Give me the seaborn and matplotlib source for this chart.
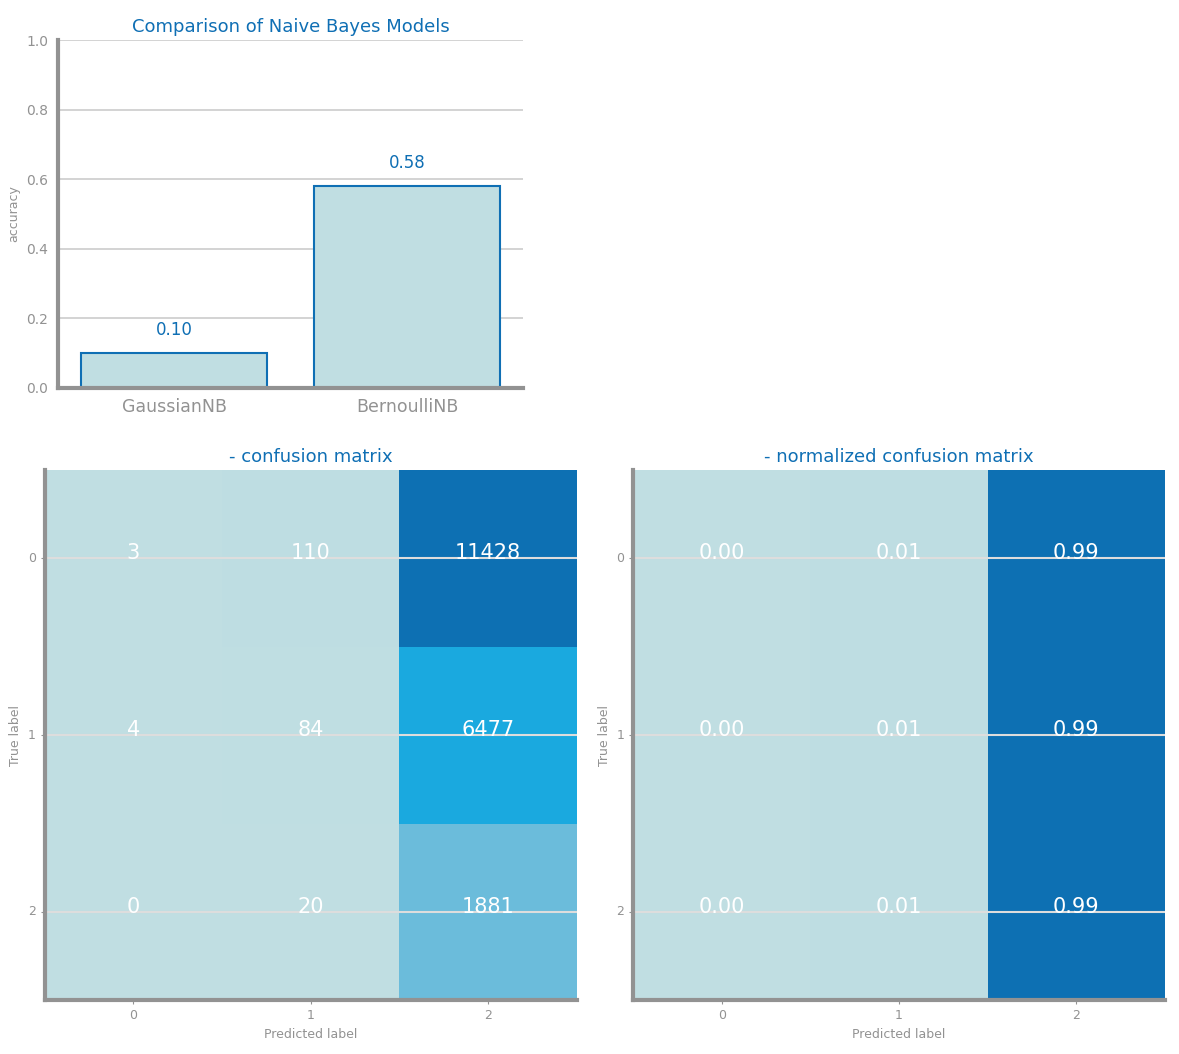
import matplotlib
matplotlib.use("Agg")
import matplotlib.pyplot as plt
import seaborn as sns
import numpy as np
import pandas as pd
from matplotlib.colors import LinearSegmentedColormap

models = ["GaussianNB", "BernoulliNB"]
accuracy = [0.10, 0.58]
labels = ["0", "1", "2"]
cm = np.array([[3, 110, 11428], [4, 84, 6477], [0, 20, 1881]])
cm_norm = np.array([[0.00, 0.01, 0.99], [0.00, 0.01, 0.99], [0.00, 0.01, 0.99]])

BLUE = "#0f6fb4"
LIGHT = "#c0dee2"
GREY = "#929292"
cmap = LinearSegmentedColormap.from_list(
    "c", [(0, LIGHT), (0.05, "#b6dae0"), (0.165, "#6bbcdb"), (0.567, "#1aa9df"), (1, "#0d70b3")])

sns.set_style("white")
plt.rcParams["font.family"] = ["DejaVu Sans"]

fig = plt.figure(figsize=(11.79, 10.54), dpi=100)
ax_bar = fig.add_axes([0.049, 0.632, 0.395, 0.330])
ax_cm = fig.add_axes([0.038, 0.051, 0.451, 0.503])
ax_cmn = fig.add_axes([0.537, 0.051, 0.451, 0.503])


def style(ax):
    for s in ["top", "right"]:
        ax.spines[s].set_visible(False)
    for s in ["left", "bottom"]:
        ax.spines[s].set_visible(True)
        ax.spines[s].set_color(GREY)
        ax.spines[s].set_linewidth(3)
    ax.tick_params(colors=GREY)


ax = ax_bar
df = pd.DataFrame({"model": models, "accuracy": accuracy})
sns.barplot(data=df, x="model", y="accuracy", ax=ax, color=LIGHT, edgecolor=BLUE, linewidth=1.5, saturation=1)
ax.set_ylim(0, 1)
ax.yaxis.grid(True, color="#cccccc", linewidth=1.2)
ax.set_axisbelow(True)
ax.set_xlabel("")
ax.set_ylabel("accuracy", color=GREY, fontsize=9)
ax.set_title("Comparison of Naive Bayes Models", color=BLUE, fontsize=13)
ax.tick_params(axis="x", labelsize=12.5)
ax.tick_params(axis="y", labelsize=10)
for i, v in enumerate(accuracy):
    ax.text(i, v + 0.04, f"{v:.2f}", ha="center", va="bottom", color=BLUE, fontsize=12)
style(ax)

for ax, data, fmt, title in [(ax_cm, cm, "d", "- confusion matrix"),
                             (ax_cmn, cm_norm, ".2f", "- normalized confusion matrix")]:
    sns.heatmap(data, ax=ax, cmap=cmap, cbar=False, annot=True, fmt=fmt,
                annot_kws={"color": "white", "fontsize": 15},
                xticklabels=labels, yticklabels=labels)
    for t in ax.texts:
        x, y = t.get_position()
        t.set_position((x, y - 0.03))
    for y in [0.5, 1.5, 2.5]:
        ax.axhline(y, color="#dddddd", linewidth=1.5)
    ax.set_title(title, color=BLUE, fontsize=13)
    ax.set_xlabel("Predicted label", color=GREY, fontsize=9)
    ax.set_ylabel("True label", color=GREY, fontsize=9)
    ax.tick_params(labelsize=9, length=3, left=True, bottom=True)
    plt.setp(ax.get_yticklabels(), rotation=0)
    style(ax)

fig.savefig("out.png")
